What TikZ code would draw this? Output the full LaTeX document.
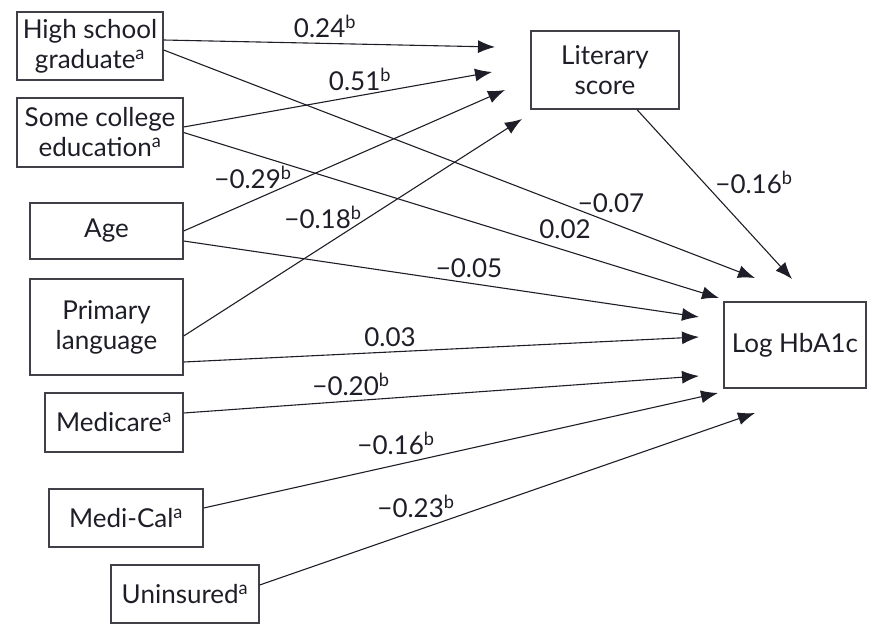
\documentclass[tikz,border=0pt]{standalone}
\usepackage{fontspec}
\setmainfont{Lato}
\usepackage{tikz}
\usetikzlibrary{positioning}
\usetikzlibrary{arrows.meta}
\definecolor{ink}{RGB}{30,30,40}
\newcommand\supa{\textsuperscript{a}}
\newcommand\supb{\textsuperscript{b}}
\newcommand\mns{−}

\begin{document}
\begin{tikzpicture}[x=1pt,y=-1pt,
	every node/.style={font=\fontsize{26}{30}\selectfont, text=ink},
	varbox/.style={draw=ink!85, line width=1.3pt, align=center, inner sep=0pt},
	link/.style={draw=ink, line width=1.1pt, -{Latex[length=17pt,width=13pt]}}]
	%% page of the figure
	\useasboundingbox (0,0) rectangle (872,624);

	% predictors
	\node[varbox, minimum width=146, minimum height=68] (hs) at (90,46) {High school\\graduate\supa};
	\node[varbox, minimum width=166, minimum height=69] (college) at (100,132.5) {Some college\\education\supa};
	\node[varbox, minimum width=153, minimum height=56] (age) at (106.5,231) {Age};
	\node[varbox, minimum width=153, minimum height=96] (lang) at (106.5,327) {Primary\\language};
	\node[varbox, minimum width=138, minimum height=59] (medicare) at (114,422.5) {Medicare\supa};
	\node[varbox, minimum width=154, minimum height=58] (medical) at (126,518) {Medi-Cal\supa};
	\node[varbox, minimum width=148, minimum height=58] (uninsured) at (185,594) {Uninsured\supa};

	% mediator and outcome
	\node[varbox, minimum width=148, minimum height=78] (lit) at (605,70) {Literary\\score};
	\node[varbox, minimum width=142, minimum height=86] (hba) at (795,345) {Log HbA1c};

	% arrow tips stop short of the boxes
	\coordinate (litA) at (495,47);
	\coordinate (litB) at (492,72);
	\coordinate (litC) at (505,90);
	\coordinate (litD) at (522,119);
	\coordinate (hbaA) at (755,278);
	\coordinate (hbaB) at (719,298);
	\coordinate (hbaC) at (699,317);
	\coordinate (hbaD) at (699,337);
	\coordinate (hbaE) at (699,376);
	\coordinate (hbaF) at (718,393);
	\coordinate (hbaG) at (755,413);
	\coordinate (hbaH) at (792,279);

	% paths to literary score
	\draw[link] ([yshift=6pt]hs.east) -- (litA);
	\draw[link] ([yshift=5.5pt]college.east) -- (litB);
	\draw[link] (age.east) -- (litC);
	\draw[link] ([yshift=-9pt]lang.east) -- (litD);

	% paths to log HbA1c
	\draw[link] ([yshift=-4pt]hs.east) -- (hbaA);
	\draw[link] (college.east) -- (hbaB);
	\draw[link] ([yshift=-10pt]age.east) -- (hbaC);
	\draw[link] ([yshift=-35pt]lang.east) -- (hbaD);
	\draw[link] ([yshift=9.5pt]medicare.east) -- (hbaE);
	\draw[link] ([yshift=10pt]medical.east) -- (hbaF);
	\draw[link] ([yshift=9pt]uninsured.east) -- (hbaG);
	\draw[link] ([xshift=32pt]lit.south) -- (hbaH);

	% coefficients
	\node (cHsLit) at (325,26) {0.24\supb};
	\node (cColLit) at (360,79) {0.51\supb};
	\node (cAgeLit) at (253,177) {\mns0.29\supb};
	\node (cLangLit) at (323,217) {\mns0.18\supb};
	\node (cHsHba) at (611,203) {\mns0.07};
	\node (cColHba) at (565,229) {0.02};
	\node (cAgeHba) at (469,268) {\mns0.05};
	\node (cLangHba) at (390,337) {0.03};
	\node (cMcareHba) at (351,384) {\mns0.20\supb};
	\node (cMcalHba) at (396,443) {\mns0.16\supb};
	\node (cUnHba) at (416,506) {\mns0.23\supb};
	\node (cLitHba) at (754,182) {\mns0.16\supb};

\end{tikzpicture}
\end{document}
